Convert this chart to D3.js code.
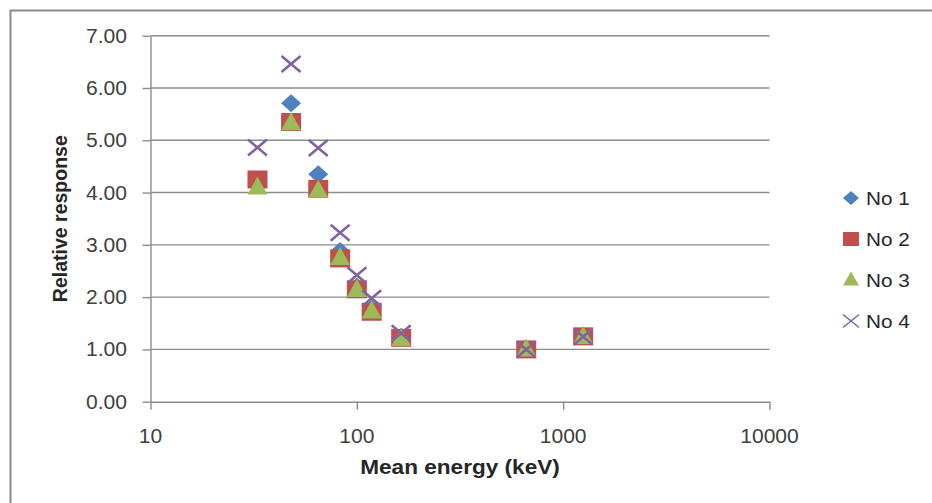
<!DOCTYPE html>
<html>
<head>
<meta charset="utf-8">
<script src="https://cdn.jsdelivr.net/npm/d3@7"></script>
<style>
  html, body { margin: 0; padding: 0; background: #ffffff; }
  svg { display: block; }
</style>
</head>
<body>
<div id="chart"></div>
<script>
// ---- data ----
const energies = [33, 48, 65, 83, 100, 118, 164, 662, 1250];
const no1 = [4.22, 5.71, 4.35, 2.88, 2.20, 1.78, 1.24, 1.00, 1.25];
const no2 = [4.25, 5.35, 4.07, 2.74, 2.15, 1.72, 1.22, 1.00, 1.25];
const no3 = [4.10, 5.33, 4.04, 2.75, 2.14, 1.73, 1.20, 1.00, 1.24];
const no4 = [4.86, 6.46, 4.85, 3.23, 2.42, 1.98, 1.31, 1.00, 1.24];
const seriesNames = ["No 1", "No 2", "No 3", "No 4"];
const xTicks = [10, 100, 1000, 10000];
const yTicks = [0, 1, 2, 3, 4, 5, 6, 7];

(function () {
const W = 932, H = 503;
const pL = 150.5, pR = 769.5, pT = 35.7, pB = 401.7;
const FONT = "'Liberation Sans', Arial, sans-serif";

const svg = d3.select("#chart").append("svg").attr("width", W).attr("height", H);

// chart frame
svg.append("rect").attr("x", 10.5).attr("y", 10.5).attr("width", 1000).attr("height", 1000)
  .attr("fill", "none").attr("stroke", "#8a8a8a").attr("stroke-width", 2);

const x = d3.scaleLog().domain([10, 10000]).range([pL, pR]);
const y = d3.scaleLinear().domain([0, 7]).range([pB, pT]);

// gridlines
svg.append("g").selectAll("line").data(yTicks.filter(d => d > 0)).enter().append("line")
  .attr("x1", pL).attr("x2", pR)
  .attr("y1", d => y(d)).attr("y2", d => y(d))
  .attr("stroke", "#8c8c8c").attr("stroke-width", 1.4);

// y axis
const yAxis = svg.append("g").attr("transform", `translate(${pL},0)`)
  .call(d3.axisLeft(y).tickValues(yTicks).tickSize(8).tickSizeOuter(0).tickFormat(""));
yAxis.select(".domain").attr("stroke", "#8c8c8c").attr("stroke-width", 1.4);
yAxis.selectAll(".tick line").attr("stroke", "#8c8c8c").attr("stroke-width", 1.4);

// y tick labels (slightly stretched horizontally)
svg.append("g").selectAll("text").data(yTicks).enter().append("text")
  .attr("transform", d => `translate(127,${y(d)}) scale(1.08,1)`)
  .attr("text-anchor", "end").attr("dy", "0.36em")
  .attr("font-family", FONT).attr("font-size", 19.5).attr("fill", "#404040")
  .text(d => d3.format(".2f")(d));

// x axis
const xAxis = svg.append("g").attr("transform", `translate(0,${pB})`)
  .call(d3.axisBottom(x).tickValues(xTicks).tickSize(8).tickSizeOuter(0).tickFormat(""));
xAxis.select(".domain").attr("stroke", "#8c8c8c").attr("stroke-width", 1.4);
xAxis.selectAll(".tick line").attr("stroke", "#8c8c8c").attr("stroke-width", 1.4);

svg.append("g").selectAll("text").data(xTicks).enter().append("text")
  .attr("transform", d => `translate(${x(d)},436) scale(1.08,1)`)
  .attr("text-anchor", "middle").attr("dy", "0.36em")
  .attr("font-family", FONT).attr("font-size", 19.5).attr("fill", "#404040")
  .text(d => String(d));

// axis titles
svg.append("text")
  .attr("transform", `translate(460,467) scale(1.13,1)`)
  .attr("text-anchor", "middle").attr("dy", "0.36em")
  .attr("font-family", FONT).attr("font-size", 20).attr("font-weight", "bold").attr("fill", "#262626")
  .text("Mean energy (keV)");

svg.append("text")
  .attr("transform", `translate(60,${(pT + pB) / 2}) rotate(-90)`)
  .attr("text-anchor", "middle").attr("dy", "0.36em")
  .attr("font-family", FONT).attr("font-size", 19.5).attr("font-weight", "bold").attr("fill", "#262626")
  .text("Relative response");

// marker shapes (w x h)
function diamondPath(w, h) { return `M0,${-h/2}L${w/2},0L0,${h/2}L${-w/2},0Z`; }
function squarePath(w, h) { return `M${-w/2},${-h/2}H${w/2}V${h/2}H${-w/2}Z`; }
function trianglePath(w, h) { return `M0,${-h*0.6}L${w/2},${h*0.4}L${-w/2},${h*0.4}Z`; }
function crossPath(w, h) { return `M${-w/2},${-h/2}L${w/2},${h/2}M${w/2},${-h/2}L${-w/2},${h/2}`; }

const series = [
  { name: seriesNames[0], values: no1, color: "#4f81bd", path: diamondPath, w: 20, h: 18, stroke: false },
  { name: seriesNames[1], values: no2, color: "#c0504d", path: squarePath, w: 20, h: 18, stroke: false },
  { name: seriesNames[2], values: no3, color: "#9bbb59", path: trianglePath, w: 20, h: 18, stroke: false },
  { name: seriesNames[3], values: no4, color: "#8064a2", path: crossPath, w: 19, h: 16, stroke: true }
];

series.forEach(s => {
  const g = svg.append("g");
  g.selectAll("path").data(energies.map((e, i) => [e, s.values[i]])).enter().append("path")
    .attr("transform", d => `translate(${x(d[0])},${y(d[1])})`)
    .attr("d", s.path(s.w, s.h))
    .attr("fill", s.stroke ? "none" : s.color)
    .attr("stroke", s.stroke ? s.color : "none")
    .attr("stroke-width", s.stroke ? 2.6 : 0);
});

// legend
const legY = [198, 239, 280, 321];
const lg = svg.append("g");
series.forEach((s, i) => {
  lg.append("path")
    .attr("transform", `translate(851,${legY[i]})`)
    .attr("d", s.path(16, s.stroke ? 13 : 14))
    .attr("fill", s.stroke ? "none" : s.color)
    .attr("stroke", s.stroke ? s.color : "none")
    .attr("stroke-width", s.stroke ? 1.6 : 0);
  lg.append("text")
    .attr("transform", `translate(866,${legY[i]}) scale(1.12,1)`)
    .attr("dy", "0.36em")
    .attr("font-family", FONT).attr("font-size", 18.5).attr("fill", "#262626")
    .text(s.name);
});
})();
</script>
</body>
</html>
